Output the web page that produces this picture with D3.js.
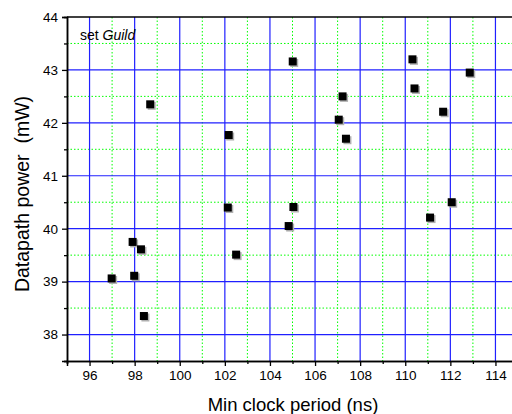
<!DOCTYPE html>
<html>
<head>
<meta charset="utf-8">
<script src="https://cdn.jsdelivr.net/npm/d3@7"></script>
<style>
  body { margin: 0; background: #fff; }
  svg { display: block; font-family: "Liberation Sans", Arial, sans-serif; }
</style>
</head>
<body>
<script>
const width = 512
const height = 414

// measured points: min clock period (ns) vs datapath power (mW)
const period = [98.69, 102.17, 102.13, 105.01, 107.22, 107.05, 107.37, 110.32, 110.41, 112.86, 111.68,
  105.04, 112.06, 104.83, 111.1, 96.98, 97.91, 98.28, 97.98, 98.41, 102.5]
const power = [42.35, 41.77, 40.40, 43.16, 42.50, 42.06, 41.70, 43.20, 42.65, 42.95, 42.21,
  40.41, 40.50, 40.05, 40.21, 39.06, 39.75, 39.61, 39.11, 38.35, 39.51]

const xMajor = [96, 98, 100, 102, 104, 106, 108, 110, 112, 114]
const xMinor = [95, 97, 99, 101, 103, 105, 107, 109, 111, 113]
const yMajor = [38, 39, 40, 41, 42, 43, 44]
const yMinor = [37.5, 38.5, 39.5, 40.5, 41.5, 42.5, 43.5]

const pLeft = 67, pTop = 17, pRight = 518, pBottom = 361

const x = d3.scaleLinear().domain([95, 115]).range([pLeft, pRight])
const y = d3.scaleLinear().domain([37.5, 44]).range([pBottom, pTop])

const svg = d3.select("body").append("svg")
  .attr("width", width)
  .attr("height", height)

// minor grid (green dotted)
const grid = svg.append("g")
grid.selectAll(".vmin").data(xMinor.filter(d => d > 95)).join("line")
  .attr("x1", d => x(d)).attr("x2", d => x(d))
  .attr("y1", pTop).attr("y2", pBottom)
  .attr("stroke", "#00ff00").attr("stroke-dasharray", "1.5,2")
grid.selectAll(".hmin").data(yMinor.filter(d => d > 37.5)).join("line")
  .attr("x1", pLeft).attr("x2", pRight)
  .attr("y1", d => y(d)).attr("y2", d => y(d))
  .attr("stroke", "#00ff00").attr("stroke-dasharray", "1.5,2")

// major grid (blue)
grid.selectAll(".vmaj").data(xMajor).join("line")
  .attr("x1", d => x(d)).attr("x2", d => x(d))
  .attr("y1", pTop).attr("y2", pBottom)
  .attr("stroke", "#2020ff").attr("stroke-width", 1.2)
grid.selectAll(".hmaj").data(yMajor.filter(d => d < 44)).join("line")
  .attr("x1", pLeft).attr("x2", pRight)
  .attr("y1", d => y(d)).attr("y2", d => y(d))
  .attr("stroke", "#2020ff").attr("stroke-width", 1.2)

// axes
const xAxis = d3.axisBottom(x).tickValues(xMajor).tickSize(5).tickPadding(4).tickFormat(d3.format("d"))
const xAxisMinor = d3.axisBottom(x).tickValues(xMinor).tickSize(3).tickFormat("")
const yAxis = d3.axisLeft(y).tickValues(yMajor).tickSize(5).tickPadding(4).tickFormat(d3.format("d"))
const yAxisMinor = d3.axisLeft(y).tickValues(yMinor).tickSize(3).tickFormat("")

const styleAxis = g => {
  g.select(".domain").attr("stroke", "#000").attr("stroke-width", 1.5)
  g.selectAll(".tick line").attr("stroke", "#000").attr("stroke-width", 1.3)
  g.selectAll(".tick text").attr("fill", "#000").style("font-size", "13.5px")
    .style("font-family", "'Liberation Sans', Arial, sans-serif")
}

svg.append("g").attr("transform", `translate(0,${pBottom})`).call(xAxisMinor).call(styleAxis)
svg.append("g").attr("transform", `translate(0,${pBottom})`).call(xAxis).call(styleAxis)
svg.append("g").attr("transform", `translate(${pLeft},0)`).call(yAxisMinor).call(styleAxis)
svg.append("g").attr("transform", `translate(${pLeft},0)`).call(yAxis).call(styleAxis)

// top border
svg.append("line")
  .attr("x1", pLeft).attr("x2", pRight)
  .attr("y1", pTop).attr("y2", pTop)
  .attr("stroke", "#000").attr("stroke-width", 1.5)

// markers with shadow
const pts = period.map((p, i) => ({ p, w: power[i] }))
svg.append("g").selectAll("rect").data(pts).join("rect")
  .attr("x", d => x(d.p) - 3.5 + 1).attr("y", d => y(d.w) - 3.5 + 1)
  .attr("width", 8).attr("height", 8).attr("fill", "#b0b0b0")
svg.append("g").selectAll("rect").data(pts).join("rect")
  .attr("x", d => x(d.p) - 4).attr("y", d => y(d.w) - 4)
  .attr("width", 8).attr("height", 8).attr("fill", "#000")

// annotation
const note = svg.append("text")
  .attr("x", 80).attr("y", 40)
  .style("font-size", "14px").attr("fill", "#000")
note.append("tspan").text("set ")
note.append("tspan").style("font-style", "italic").text("Guild")

// axis titles
svg.append("text")
  .attr("x", 293).attr("y", 411)
  .attr("text-anchor", "middle")
  .style("font-size", "18.5px").attr("fill", "#000")
  .text("Min clock period (ns)")

svg.append("text")
  .attr("transform", `translate(29,194) rotate(-90)`)
  .attr("text-anchor", "middle")
  .style("white-space", "pre")
  .style("font-size", "19.5px").attr("fill", "#000")
  .text("Datapath power  (mW)")
</script>
</body>
</html>
